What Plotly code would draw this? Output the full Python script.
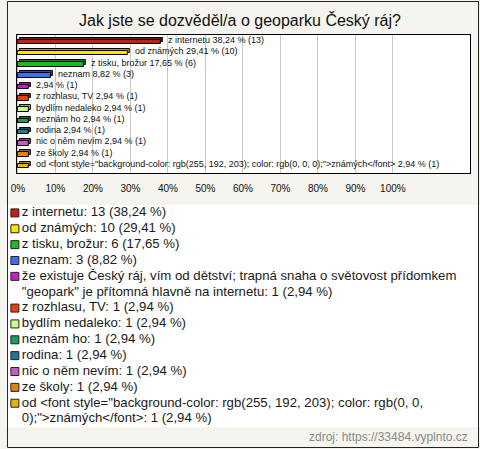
import textwrap
import plotly.graph_objects as go

title = "Jak jste se dozvěděl/a o geoparku Český ráj?"
names = [
    "z internetu",
    "od známých",
    "z tisku, brožur",
    "neznam",
    "že existuje Český ráj, vím od dětství; trapná snaha o světovost přídomkem \"geopark\" je přítomná hlavně na internetu",
    "z rozhlasu, TV",
    "bydlím nedaleko",
    "neznám ho",
    "rodina",
    "nic o něm nevím",
    "ze školy",
    "od <font style=\"background-color: rgb(255, 192, 203); color: rgb(0, 0, 0);\">známých</font>",
]
bar_names = names[:4] + [""] + names[5:]
counts = [13, 10, 6, 3, 1, 1, 1, 1, 1, 1, 1, 1]
percents = [38.24, 29.41, 17.65, 8.82, 2.94, 2.94, 2.94, 2.94, 2.94, 2.94, 2.94, 2.94]
colors = ["#c4200e", "#ffe400", "#1fb81f", "#3f6fe8", "#c81ec8", "#e8400f",
          "#ccff88", "#12a05a", "#1e7896", "#c45cc4", "#e8800a", "#e8b400"]
tick_vals = [0, 10, 20, 30, 40, 50, 60, 70, 80, 90, 100]
tick_text = [f"{v}%" for v in tick_vals]
source = "zdroj: https://33484.vyplnto.cz"

W, H = 480, 449


def esc(s):
    return s.replace("&", "&amp;").replace("<", "&lt;").replace(">", "&gt;")


def fmt(p):
    return f"{p:.2f}".replace(".", ",")


def darker(hexc, f=0.7):
    r, g, b = int(hexc[1:3], 16), int(hexc[3:5], 16), int(hexc[5:7], 16)
    return f"rgb({int(r*f)},{int(g*f)},{int(b*f)})"


cats = [f"c{i}" for i in range(len(names))]
FONT = "Arial, Liberation Sans, sans-serif"

fig = go.Figure()
# back (3D) face
fig.add_trace(go.Bar(
    x=percents, y=cats, base=0.5, orientation="h", width=0.4, offset=-0.3,
    marker=dict(color=[darker(c) for c in colors], line=dict(color="#000", width=1)),
    showlegend=False, hoverinfo="skip"))
# front face
fig.add_trace(go.Bar(
    x=percents, y=cats, orientation="h", width=0.4, offset=-0.12,
    marker=dict(color=colors, line=dict(color="#000", width=1)),
    showlegend=False, hoverinfo="skip"))

for c, n, p, k in zip(cats, bar_names, percents, counts):
    label = f"{esc(n)} {fmt(p)} % ({k})".strip()
    fig.add_annotation(x=p, y=c, xref="x", yref="y", text=label, showarrow=False,
                       xanchor="left", xshift=5, yshift=1,
                       font=dict(family=FONT, size=9, color="#111"))

# legend built as a scatter in a second subplot
leg_lines, leg_marker_y, line_idx = [], [], 0
for n, k, p in zip(names, counts, percents):
    full = f"{n}: {k} ({fmt(p)} %)"
    parts = textwrap.wrap(full, width=75)
    leg_marker_y.append(line_idx)
    for part in parts:
        leg_lines.append((line_idx, esc(part)))
        line_idx += 1

fig.add_trace(go.Scatter(
    x=[9] * len(leg_marker_y), y=leg_marker_y, mode="markers", xaxis="x2", yaxis="y2",
    marker=dict(symbol="square", size=8, color=colors, line=dict(color="#222", width=1)),
    showlegend=False, hoverinfo="skip"))
fig.add_trace(go.Scatter(
    x=[16] * len(leg_lines), y=[l[0] for l in leg_lines], text=[l[1] for l in leg_lines],
    mode="text", textposition="middle right", xaxis="x2", yaxis="y2",
    textfont=dict(family=FONT, size=13.2, color="#1a1a1a"),
    showlegend=False, hoverinfo="skip"))

fig.update_layout(
    width=W, height=H, margin=dict(l=0, r=0, t=0, b=0),
    paper_bgcolor="#f5f4ee", plot_bgcolor="#ffffff",
    barmode="overlay", bargap=0,
    title=dict(text=title, x=0.5, xanchor="center", y=1 - 20 / H, yanchor="middle",
               font=dict(family=FONT, size=16, color="#111")),
    xaxis=dict(domain=[11 / W, 470 / W], range=[-0.3, 120.6], tickvals=tick_vals,
               ticktext=tick_text, showgrid=True, gridcolor="#c8c8c8", gridwidth=1,
               zeroline=False, showline=True, linecolor="#000", linewidth=1, mirror=True,
               ticks="", tickfont=dict(family=FONT, size=10, color="#111"),
               ticklabelstandoff=6, fixedrange=True),
    yaxis=dict(domain=[1 - 173 / H, 1 - 35 / H], categoryorder="array", categoryarray=cats,
               autorange="reversed", showticklabels=False, showgrid=False, zeroline=False,
               showline=True, linecolor="#000", linewidth=1, mirror=True, ticks=""),
    xaxis2=dict(domain=[0, 1], range=[0, W], visible=False, fixedrange=True, anchor="y2"),
    yaxis2=dict(domain=[1 - 427 / H, 1 - 205 / H], range=[line_idx - 0.5, -0.5],
                visible=False, fixedrange=True, anchor="x2"),
    shapes=[dict(type="rect", xref="paper", yref="paper", x0=1.5 / W, x1=478.5 / W,
                 y0=1 - 447.5 / H, y1=1 - 1.5 / H, line=dict(color="#222", width=1))],
)
fig.add_annotation(text=source, xref="paper", yref="paper", x=470 / W, y=1 - 437 / H,
                   xanchor="right", yanchor="middle", showarrow=False,
                   font=dict(family=FONT, size=12, color="#8a8a8a"))

fig.write_html("out.html", config={"displayModeBar": False},
               post_script="document.body.style.margin='0';document.body.style.overflow='hidden';")
